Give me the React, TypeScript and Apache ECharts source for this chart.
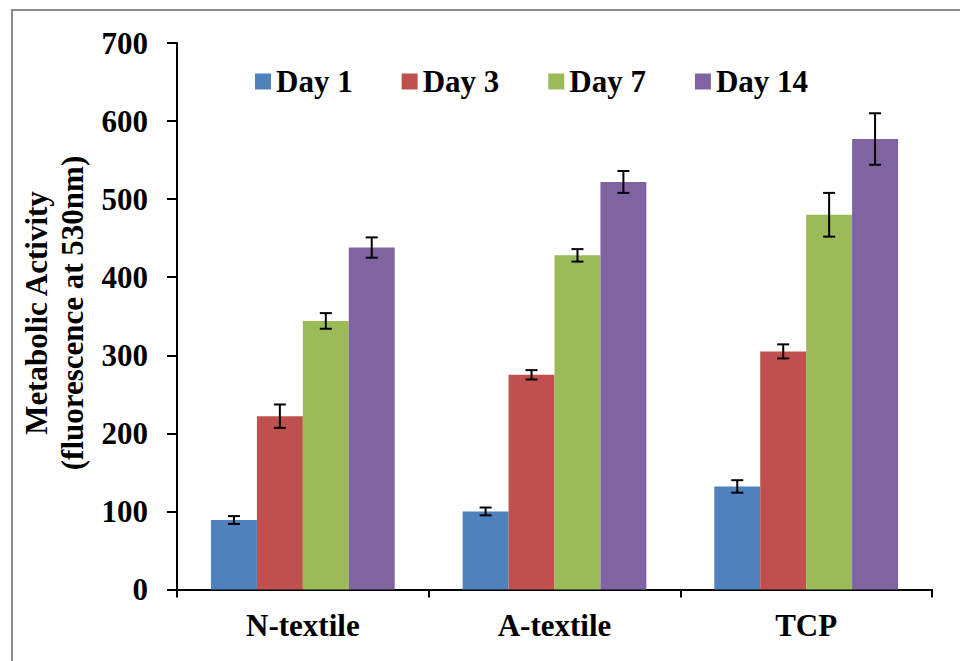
import React, { useEffect, useRef } from "react";
import * as echarts from "echarts";

const categories = ["N-textile", "A-textile", "TCP"];
const seriesNames = ["Day 1", "Day 3", "Day 7", "Day 14"];
const day1 = [89, 100, 132];
const day3 = [222, 275, 305];
const day7 = [344, 428, 480];
const day14 = [438, 522, 577];
const err1 = [5, 5, 8];
const err3 = [15, 6, 9];
const err7 = [10, 8, 28];
const err14 = [13, 14, 33];
const yTicks = [0, 100, 200, 300, 400, 500, 600, 700];
const colors = ["#4F81BD", "#C0504D", "#9BBB59", "#8064A2"];

const FONT = "'Liberation Serif', 'Times New Roman', serif";
const CAT_GAP = 0.27;

export default function App() {
  const ref = useRef<HTMLDivElement>(null);
  useEffect(() => {
    if (!ref.current) return;
    const chart = echarts.init(ref.current, null, { renderer: "svg" });
    const values = [day1, day3, day7, day14];
    const errs = [err1, err3, err7, err14];
    const nS = values.length;

    const barSeries = values.map((vals, i) => ({
      type: "bar",
      name: seriesNames[i],
      data: vals,
      barGap: "0%",
      barCategoryGap: CAT_GAP * 100 + "%",
      itemStyle: { color: colors[i] },
    }));

    const errSeries = values.map((vals, si) => ({
      type: "custom",
      name: seriesNames[si] + " err",
      data: vals.map((v, k) => [k, v - errs[si][k], v + errs[si][k]]),
      z: 10,
      renderItem: (params: any, api: any) => {
        const k = api.value(0);
        const lo = api.coord([k, api.value(1)]);
        const hi = api.coord([k, api.value(2)]);
        const catW = api.size([1, 0])[0];
        const bw = (catW * (1 - CAT_GAP)) / nS;
        const cx = lo[0] + (si - (nS - 1) / 2) * bw;
        const cap = 6;
        const style = { stroke: "#000", lineWidth: 2 };
        return {
          type: "group",
          children: [
            { type: "line", shape: { x1: cx, y1: lo[1], x2: cx, y2: hi[1] }, style },
            { type: "line", shape: { x1: cx - cap, y1: lo[1], x2: cx + cap, y2: lo[1] }, style },
            { type: "line", shape: { x1: cx - cap, y1: hi[1], x2: cx + cap, y2: hi[1] }, style },
          ],
        };
      },
      silent: true,
    }));

    chart.setOption({
      animation: false,
      backgroundColor: "#fff",
      textStyle: { fontFamily: FONT },
      grid: { left: 177, right: 28, top: 43, bottom: 71.5, containLabel: false },
      legend: {
        data: seriesNames,
        left: 250,
        top: 61,
        itemWidth: 16,
        itemHeight: 16,
        itemGap: 49,
        icon: "rect",
        textStyle: { fontFamily: FONT, fontWeight: "bold", fontSize: 31, color: "#000" },
      },
      xAxis: {
        type: "category",
        data: categories,
        axisLine: { lineStyle: { color: "#000", width: 2 } },
        axisTick: { show: true, length: 8, lineStyle: { color: "#000", width: 2 } },
        axisLabel: { fontFamily: FONT, fontWeight: "bold", fontSize: 31, color: "#000", margin: 20 },
      },
      yAxis: {
        type: "value",
        min: yTicks[0],
        max: yTicks[yTicks.length - 1],
        interval: 100,
        splitLine: { show: false },
        axisLine: { show: true, lineStyle: { color: "#000", width: 2 } },
        axisTick: { show: true, length: 10, lineStyle: { color: "#000", width: 2 } },
        axisLabel: { fontFamily: FONT, fontWeight: "bold", fontSize: 31, color: "#000", margin: 29 },
      },
      graphic: [
        {
          type: "rect",
          shape: { x: 12, y: 10, width: 1000, height: 1000 },
          style: { fill: "none", stroke: "#8c8c8c", lineWidth: 2 },
          silent: true,
        },
        {
          type: "text",
          x: 54,
          y: 313,
          rotation: Math.PI / 2,
          style: {
            text: "Metabolic Activity\n(fluorescence at 530nm)",
            align: "center",
            verticalAlign: "middle",
            font: "bold 31px " + FONT,
            lineHeight: 36,
            fill: "#000",
          },
        },
      ],
      series: [...barSeries, ...errSeries],
    });
    return () => chart.dispose();
  }, []);
  return <div ref={ref} style={{ width: 960, height: 661, position: "absolute", left: 0, top: 0 }} />;
}
